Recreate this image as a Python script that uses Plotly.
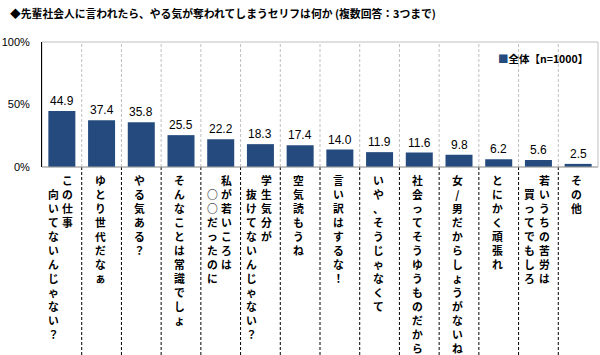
import plotly.graph_objects as go

title_text = "◆先輩社会人に言われたら、やる気が奪われてしまうセリフは何か (複数回答：3つまで)"
legend_text = "全体【n=1000】"
categories = [
    ["この仕事", "向いてないんじゃない？"],
    ["ゆとり世代だなぁ"],
    ["やる気ある？"],
    ["そんなことは常識でしょ"],
    ["私が若いころは", "○○だったのに"],
    ["学生気分が", "抜けてないんじゃない？"],
    ["空気読もうね"],
    ["言い訳はするな！"],
    ["いや、そうじゃなくて"],
    ["社会ってそうゆうものだから"],
    ["女/男だからしょうがないね"],
    ["とにかく頑張れ"],
    ["若いうちの苦労は", "買ってでもしろ"],
    ["その他"],
]
values = [44.9, 37.4, 35.8, 25.5, 22.2, 18.3, 17.4, 14.0, 11.9, 11.6, 9.8, 6.2, 5.6, 2.5]
ytick_vals = [0, 50, 100]
ytick_text = ["0%", "50%", "100%"]

BAR = "#254B7E"
JP = "Noto Sans CJK JP"
n = len(values)
idx = list(range(n))

W, H = 600, 355
ml, mr, mt, mb = 39, 2, 42, 188
pw, ph = W - ml - mr, H - mt - mb

fig = go.Figure()
fig.add_trace(go.Bar(x=idx, y=values, marker=dict(color=BAR, line=dict(width=0)),
                     width=0.68, showlegend=False, hoverinfo="skip"))

annotations = []
# value labels
for i, v in zip(idx, values):
    annotations.append(dict(x=i, y=v, xref="x", yref="y", text=f"{v:.1f}",
                            showarrow=False, yanchor="bottom", yshift=1,
                            font=dict(family="Liberation Sans, Arial", size=12, color="#000")))
# vertical category labels
for i, cols in enumerate(categories):
    if len(cols) == 1:
        shifts = [(-1.5, 0)]
    else:
        shifts = [(6, 0), (-8.5, -14)]
    for col, (xs, ys) in zip(cols, shifts):
        annotations.append(dict(x=i, y=0, xref="x", yref="paper", text="<br>".join(list(col)),
                                showarrow=False, xanchor="center", yanchor="top", align="center",
                                xshift=xs, yshift=-3 + ys,
                                font=dict(family=JP, size=10.8, color="#000", weight="bold")))
# title
annotations.append(dict(x=(5 - ml) / pw, y=1 + (mt - 13) / ph, xref="paper", yref="paper",
                        text="<b>" + title_text + "</b>",
                        showarrow=False, xanchor="left", yanchor="middle",
                        font=dict(family=JP, size=10.8, color="#000")))
# legend
annotations.append(dict(x=0.985, y=0.87, xref="paper", yref="paper",
                        text=f"<span style='color:{BAR}'>■</span>" + legend_text,
                        showarrow=False, xanchor="right", yanchor="middle",
                        font=dict(family=JP, size=10.5, color="#000", weight="bold")))

shapes = [dict(type="rect", xref="paper", yref="paper", x0=0, x1=1, y0=0, y1=1,
               line=dict(color="#BFBFBF", width=1), layer="below")]
for k in range(1, n):
    xp = k / n
    shapes.append(dict(type="line", xref="paper", yref="paper", x0=xp, x1=xp, y0=0, y1=1,
                       line=dict(color="#BFBFBF", width=1, dash="3px,2px"), layer="below"))
    shapes.append(dict(type="line", xref="paper", yref="paper", x0=xp, x1=xp, y0=0, y1=-mb / ph,
                       line=dict(color="#000", width=1, dash="3px,2px")))
shapes.append(dict(type="line", xref="paper", yref="paper", x0=0, x1=1, y0=0, y1=0,
                   line=dict(color="#A6A6A6", width=1)))

fig.update_layout(
    width=W, height=H, autosize=False,
    margin=dict(l=ml, r=mr, t=mt, b=mb, pad=0),
    paper_bgcolor="white", plot_bgcolor="white",
    xaxis=dict(range=[-0.5, n - 0.5], showticklabels=False, showgrid=False, zeroline=False,
               showline=False, ticks="", fixedrange=True),
    yaxis=dict(range=[0, 100], tickvals=ytick_vals, ticktext=ytick_text, showgrid=False,
               zeroline=False, showline=True, linecolor="#000", linewidth=1, ticks="",
               ticklabelstandoff=9, fixedrange=True,
               tickfont=dict(family="Liberation Sans, Arial", size=11, color="#000")),
    annotations=annotations,
    shapes=shapes,
    showlegend=False,
)

fig.write_html("out.html", config={"displayModeBar": False},
               post_script="document.body.style.margin='0';document.body.style.overflow='hidden';")
